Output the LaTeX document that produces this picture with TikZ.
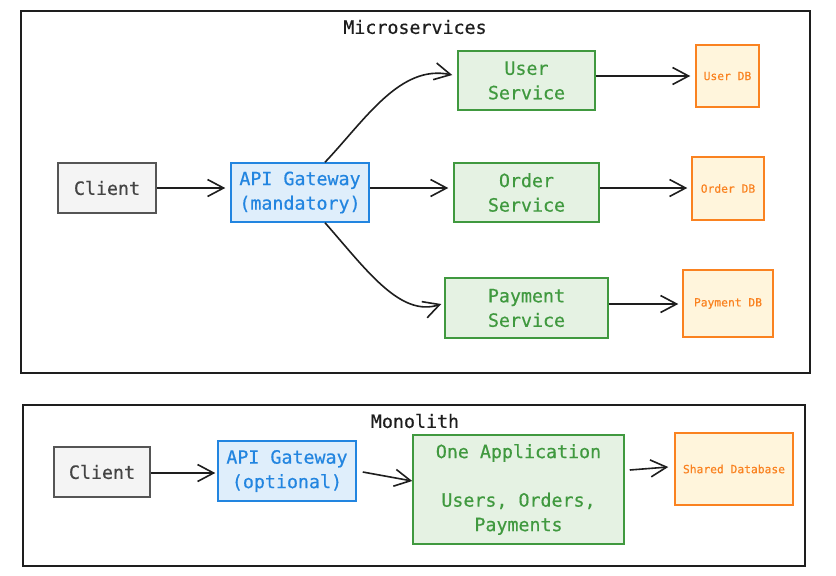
\documentclass[tikz,border=0pt]{standalone}
\usepackage{fontspec}
\setmainfont[FakeBold=0.5]{DejaVu Sans Mono}
\usetikzlibrary{arrows.meta,calc}
\definecolor{ink}{HTML}{1E1E1E}
\definecolor{grayfill}{HTML}{F4F4F4}
\definecolor{graydraw}{HTML}{555555}
\definecolor{graytext}{HTML}{444444}
\definecolor{bluefill}{HTML}{DFEEFB}
\definecolor{bluedraw}{HTML}{2285E0}
\definecolor{greenfill}{HTML}{E5F2E3}
\definecolor{greendraw}{HTML}{40993F}
\definecolor{orangefill}{HTML}{FFF5DC}
\definecolor{orangedraw}{HTML}{FA8220}
\begin{document}
\begin{tikzpicture}[x=1pt,y=-1pt,
  frame/.style={draw=ink,line width=1.8pt,fill=none,inner sep=0pt},
  title/.style={text=ink,font=\fontsize{18.3}{24}\selectfont,inner sep=0pt},
  box/.style={rectangle,line width=1.5pt,inner sep=0pt,align=center,font=\fontsize{18.3}{24.5}\selectfont},
  graybox/.style={box,fill=grayfill,draw=graydraw,text=graytext},
  bluebox/.style={box,fill=bluefill,draw=bluedraw,text=bluedraw},
  greenbox/.style={box,fill=greenfill,draw=greendraw,text=greendraw},
  dbbox/.style={box,fill=orangefill,draw=orangedraw,text=orangedraw,font=\fontsize{11.3}{14}\selectfont},
  arr/.style={draw=ink,line width=1.6pt,-{Straight Barb[length=16pt,width=17pt,line width=1.6pt]}}
]
\useasboundingbox (0,0) rectangle (836,576);
\fill[white] (0,0) rectangle (836,576);

% Microservices
\node[frame,minimum width=789pt,minimum height=362pt] (msframe) at (415.5,192) {};
\node[title] (mstitle) at (415,27) {Microservices};
\node[graybox,minimum width=98pt,minimum height=50pt] (cl) at (107,188) {Client};
\node[bluebox,minimum width=138pt,minimum height=59pt] (gw) at (300,192.5) {API Gateway\\(mandatory)};
\node[greenbox,minimum width=137pt,minimum height=59pt] (us) at (526.5,80.5) {User\\Service};
\node[greenbox,minimum width=145pt,minimum height=59pt] (os) at (526.5,192.5) {Order\\Service};
\node[greenbox,minimum width=163pt,minimum height=60pt] (ps) at (526.5,308) {Payment\\Service};
\node[dbbox,minimum width=63pt,minimum height=62pt] (udb) at (727.5,76) {User DB};
\node[dbbox,minimum width=72pt,minimum height=63pt] (odb) at (728,188.5) {Order DB};
\node[dbbox,minimum width=90pt,minimum height=67pt] (pdb) at (728,303.5) {Payment DB};

\draw[arr] (cl.east) -- ($(gw.west)+(-5,-4.5)$);
\draw[arr] ($(gw.east)+(0,-4.5)$) -- ($(os.west)+(-5,-4.5)$);
\draw[arr] ($(gw.north)+(25,0)$) .. controls (365,120) and (400,64) .. ($(us.west)+(-5,-5.5)$);
\draw[arr] ($(gw.south)+(25,0)$) .. controls (365,268) and (400,318) .. ($(ps.west)+(-3,-4)$);
\draw[arr] ($(us.east)+(0,-4.5)$) -- ($(udb.west)+(-5,0)$);
\draw[arr] ($(os.east)+(0,-4.5)$) -- ($(odb.west)+(-4,-0.5)$);
\draw[arr] ($(ps.east)+(0,-4)$) -- ($(pdb.west)+(-4,0.5)$);

% Monolith
\node[frame,minimum width=782pt,minimum height=161pt] (moframe) at (414,485.5) {};
\node[title] (motitle) at (415,421) {Monolith};
\node[graybox,minimum width=96pt,minimum height=50pt] (cl2) at (102,472) {Client};
\node[bluebox,minimum width=138pt,minimum height=60pt] (gw2) at (287,471) {API Gateway\\(optional)};
\node[greenbox,minimum width=211pt,minimum height=109pt] (app) at (518.5,489.5) {One Application\\[24pt]Users, Orders,\\Payments};
\node[dbbox,minimum width=118pt,minimum height=72pt] (sdb) at (734,469) {Shared Database};

\draw[arr] ($(cl2.east)+(0,1)$) -- ($(gw2.west)+(-2,2)$);
\draw[arr] ($(gw2.east)+(6,1)$) -- ($(app.west)+(0,-8.5)$);
\draw[arr] ($(app.east)+(5,-19.5)$) -- ($(sdb.west)+(-6,-2)$);
\end{tikzpicture}
\end{document}
